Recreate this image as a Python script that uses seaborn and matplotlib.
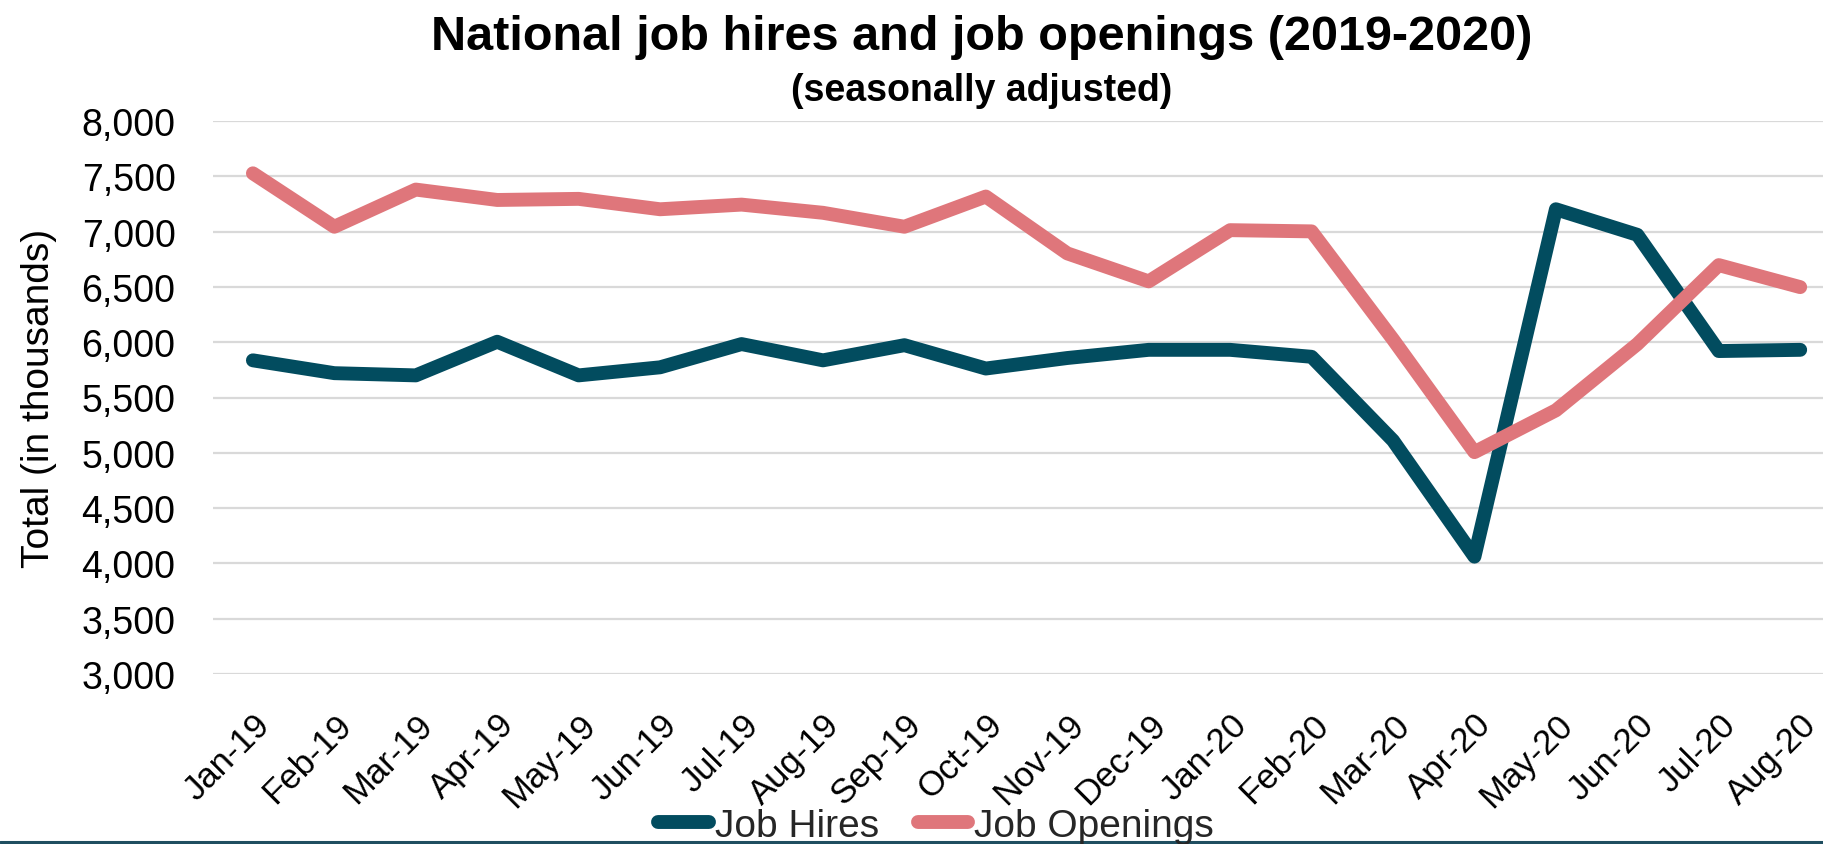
import matplotlib
matplotlib.use("Agg")
import matplotlib.pyplot as plt
from matplotlib.lines import Line2D
from matplotlib import font_manager
import seaborn as sns
import pandas as pd

months = ["Jan-19", "Feb-19", "Mar-19", "Apr-19", "May-19", "Jun-19", "Jul-19",
          "Aug-19", "Sep-19", "Oct-19", "Nov-19", "Dec-19", "Jan-20", "Feb-20",
          "Mar-20", "Apr-20", "May-20", "Jun-20", "Jul-20", "Aug-20"]

job_hires = [5836, 5720, 5700, 6004, 5700, 5773, 5983, 5836, 5973, 5762,
             5857, 5931, 5931, 5868, 5111, 4061, 7202, 6971, 5920, 5931]

job_openings = [7527, 7044, 7380, 7286, 7296, 7202, 7244, 7170, 7044, 7317,
                6803, 6550, 7013, 7002, 6025, 5006, 5384, 5983, 6697, 6498]

series_names = ["Job Hires", "Job Openings"]
colors = ["#024C5F", "#DF767B"]

y_ticks = [3000, 3500, 4000, 4500, 5000, 5500, 6000, 6500, 7000, 7500, 8000]

df = pd.DataFrame({
    "month": list(range(len(months))) * 2,
    "value": job_hires + job_openings,
    "series": [series_names[0]] * len(months) + [series_names[1]] * len(months),
})

sns.set_theme(style="white")
plt.rcParams["font.family"] = ["Liberation Sans", "DejaVu Sans"]

installed = {f.name for f in font_manager.fontManager.ttflist}
if "Liberation Sans Narrow" in installed:
    legend_family, legend_size = ["Liberation Sans Narrow", "Liberation Sans"], 34
else:
    legend_family, legend_size = ["Liberation Sans", "DejaVu Sans"], 28

W, H = 1823, 845
fig = plt.figure(figsize=(W / 100, H / 100), dpi=100)
ax_left, ax_top, ax_bottom = 213, 122, 675
ax = fig.add_axes([ax_left / W, 1 - ax_bottom / H, (W - ax_left) / W, (ax_bottom - ax_top) / H])

sns.lineplot(data=df, x="month", y="value", hue="series", palette=colors,
             linewidth=10, ax=ax, legend=False, solid_capstyle="round",
             solid_joinstyle="round", zorder=3)

ax.set_xlim(-0.49, 19.28)
ax.set_ylim(3000, 8000)
ax.set_yticks(y_ticks)
ax.set_yticklabels([f"{v:,}" for v in y_ticks], fontsize=27, color="black")
ax.yaxis.grid(True, color="#D9D9D9", linewidth=1.6, zorder=0)
ax.xaxis.grid(False)
ax.set_xticks(range(len(months)))
ax.set_xticklabels(months, rotation=45, ha="right", rotation_mode="anchor",
                   fontsize=25, color="black")
ax.tick_params(axis="x", pad=24, length=0)
ax.tick_params(axis="y", pad=27, length=0)
for side in ["top", "right", "left", "bottom"]:
    ax.spines[side].set_visible(False)

ax.set_xlabel("")
ax.set_ylabel("Total (in thousands)", fontsize=28, color="black")
ax.yaxis.set_label_coords((57 - ax_left) / (W - ax_left), 0.5)

title_x = 982 / W
fig.text(title_x, 1 - 38 / H, "National job hires and job openings (2019-2020)",
         ha="center", va="center", fontsize=35, fontweight="bold", color="black")
fig.text(title_x, 1 - 91 / H, "(seasonally adjusted)",
         ha="center", va="center", fontsize=27, fontweight="bold", color="black")

handles = [Line2D([0], [0], color=c, linewidth=10, solid_capstyle="round")
           for c in colors]
fig.legend(handles, series_names, loc="center", bbox_to_anchor=(936 / W, 1 - 827 / H),
           ncol=2, frameon=False, prop={"family": legend_family, "size": legend_size},
           handlelength=1.3, handletextpad=0.15, columnspacing=1.0, borderpad=0)

fig.add_artist(Line2D([0, 1], [1 - 843 / H, 1 - 843 / H], transform=fig.transFigure,
                      color="#1F4E60", linewidth=2.2))

fig.savefig("out.png", dpi=100)
